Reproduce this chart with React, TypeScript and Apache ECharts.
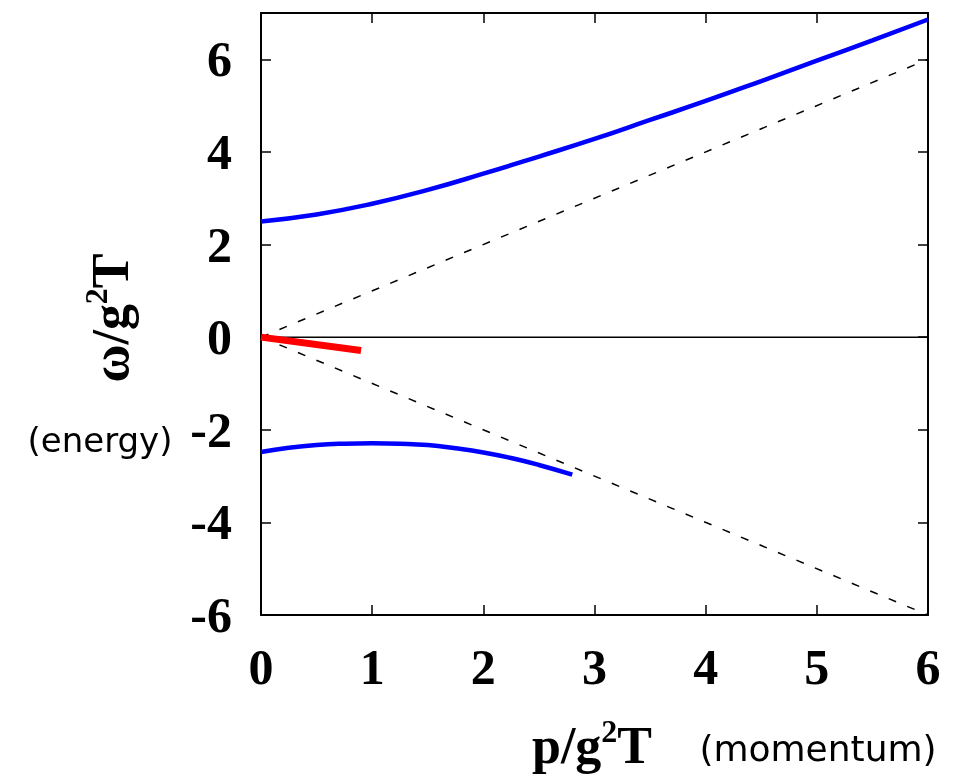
import React, { useEffect, useRef } from "react";
import * as echarts from "echarts";

const upperP = [0, 0.5, 1, 1.5, 2, 2.5, 3, 3.5, 4, 4.5, 5, 5.5, 6];
const upperW = [2.5, 2.65, 2.88, 3.18, 3.53, 3.9, 4.28, 4.69, 5.1, 5.53, 5.97, 6.41, 6.86];
const lowerP = [0, 0.25, 0.5, 0.75, 1, 1.25, 1.5, 1.75, 2, 2.25, 2.5, 2.8];
const lowerW = [-2.48, -2.39, -2.33, -2.3, -2.29, -2.3, -2.33, -2.4, -2.49, -2.61, -2.76, -2.97];
const redP = [0, 0.9];
const redW = [0, -0.29];
const coneP = [0, 6];
const conePlus = [0, 6];
const coneMinus = [0, -6];
const zeroP = [0, 6];
const zeroW = [0, 0];

const zip = (a: number[], b: number[]) => a.map((v, i) => [v, b[i]]);

const serif = "'Liberation Serif', 'Times New Roman', serif";
const sans = "'DejaVu Sans', sans-serif";

export default function App() {
  const ref = useRef<HTMLDivElement>(null);
  useEffect(() => {
    if (!ref.current) return;
    const chart = echarts.init(ref.current, undefined, { renderer: "svg" });
    const axisLine = { show: true, onZero: false, lineStyle: { color: "#000", width: 2 } };
    const tick = { show: true, inside: true, length: 10, lineStyle: { color: "#000", width: 1.5 } };
    const label = { fontFamily: serif, fontWeight: "bold" as const, fontSize: 50, color: "#000" };
    chart.setOption({
      animation: false,
      grid: { left: 261, top: 13, right: 51, bottom: 169, containLabel: false },
      xAxis: [
        {
          type: "value", min: 0, max: 6, interval: 1, position: "bottom",
          axisLine, axisTick: tick, splitLine: { show: false },
          axisLabel: { ...label, margin: 27 },
        },
        {
          type: "value", min: 0, max: 6, interval: 1, position: "top",
          axisLine, axisTick: tick, splitLine: { show: false }, axisLabel: { show: false },
        },
      ],
      yAxis: [
        {
          type: "value", min: -6, max: 7, interval: 2, position: "left",
          axisLine, axisTick: tick, splitLine: { show: false },
          axisLabel: { ...label, margin: 29, showMaxLabel: false },
        },
        {
          type: "value", min: -6, max: 7, interval: 2, position: "right",
          axisLine, axisTick: tick, splitLine: { show: false }, axisLabel: { show: false },
        },
      ],
      series: [
        {
          type: "line", data: zip(zeroP, zeroW), showSymbol: false, silent: true,
          lineStyle: { color: "#000", width: 1.5 },
        },
        {
          type: "line", data: zip(coneP, conePlus), showSymbol: false, silent: true,
          lineStyle: { color: "#000", width: 1.5, type: [8, 12] },
        },
        {
          type: "line", data: zip(coneP, coneMinus), showSymbol: false, silent: true,
          lineStyle: { color: "#000", width: 1.5, type: [8, 12] },
        },
        {
          type: "line", data: zip(upperP, upperW), showSymbol: false, smooth: true,
          lineStyle: { color: "#0000ff", width: 4.5 },
        },
        {
          type: "line", data: zip(lowerP, lowerW), showSymbol: false, smooth: true,
          lineStyle: { color: "#0000ff", width: 4.5 },
        },
        {
          type: "line", data: zip(redP, redW), showSymbol: false,
          lineStyle: { color: "#ff0000", width: 7, cap: "butt" },
        },
      ],
      graphic: [
        {
          type: "text", x: 108, y: 318, rotation: Math.PI / 2,
          style: {
            text: "{a|ω/g}{s|2}{a|T}", align: "center", verticalAlign: "middle",
            rich: {
              a: { fontFamily: serif, fontWeight: "bold", fontSize: 52, lineHeight: 56, verticalAlign: "bottom" },
              s: { fontFamily: serif, fontWeight: "bold", fontSize: 32, lineHeight: 56, verticalAlign: "top" },
            },
            fill: "#000",
          },
        },
        {
          type: "text", x: 592, y: 743,
          style: {
            text: "{a|p/g}{s|2}{a|T}", align: "center", verticalAlign: "middle",
            rich: {
              a: { fontFamily: serif, fontWeight: "bold", fontSize: 52, lineHeight: 56, verticalAlign: "bottom" },
              s: { fontFamily: serif, fontWeight: "bold", fontSize: 32, lineHeight: 56, verticalAlign: "top" },
            },
            fill: "#000",
          },
        },
        {
          type: "text", x: 100, y: 440,
          style: { text: "(energy)", fontFamily: sans, fontSize: 34, fill: "#000", align: "center", verticalAlign: "middle" },
        },
        {
          type: "text", x: 818, y: 748,
          style: { text: "(momentum)", fontFamily: sans, fontSize: 36, fill: "#000", align: "center", verticalAlign: "middle" },
        },
      ],
    });
    return () => chart.dispose();
  }, []);
  return <div ref={ref} style={{ position: "fixed", left: 0, top: 0, width: 979, height: 784 }} />;
}
